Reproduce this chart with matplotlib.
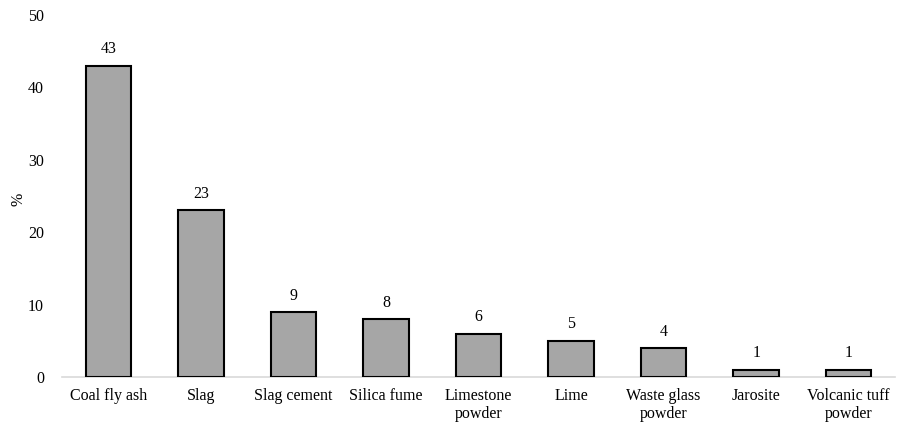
import matplotlib
matplotlib.use("Agg")
import matplotlib.pyplot as plt

categories = ["Coal fly ash", "Slag", "Slag cement", "Silica fume", "Limestone\npowder",
              "Lime", "Waste glass\npowder", "Jarosite", "Volcanic tuff\npowder"]
values = [43, 23, 9, 8, 6, 5, 4, 1, 1]
yticks = [0, 10, 20, 30, 40, 50]

plt.rcParams['font.family'] = ['Liberation Serif', 'DejaVu Serif']
FS = 11.5
fig = plt.figure(figsize=(9.02, 4.22), dpi=100)
ax = fig.add_axes([62/902, 1-377/422, (895-62)/902, (377-15)/422])

x = list(range(len(categories)))
bars = ax.bar(x, values, width=0.49, color="#a6a6a6", edgecolor="black", linewidth=1.5, zorder=3)
for xi, v in zip(x, values):
    ax.annotate(str(v), (xi, v), xytext=(0, 6), textcoords="offset points",
                ha="center", va="bottom", fontsize=FS)

ax.set_xlim(-0.5, len(categories) - 0.5)
ax.set_ylim(0, 50)
ax.set_yticks(yticks)
ax.set_xticks(x)
ax.set_xticklabels(categories, fontsize=FS, linespacing=1.15)
ax.tick_params(axis="y", labelsize=FS, length=0, pad=13)
ax.tick_params(axis="x", length=0, pad=8)
for s in ["top", "right", "left"]:
    ax.spines[s].set_visible(False)
ax.spines["bottom"].set_color("#d9d9d9")
ax.spines["bottom"].set_linewidth(1.2)
ax.set_ylabel("%", fontsize=FS)
ax.yaxis.set_label_coords(-0.043, 0.49)

fig.savefig("out.png", dpi=100)
